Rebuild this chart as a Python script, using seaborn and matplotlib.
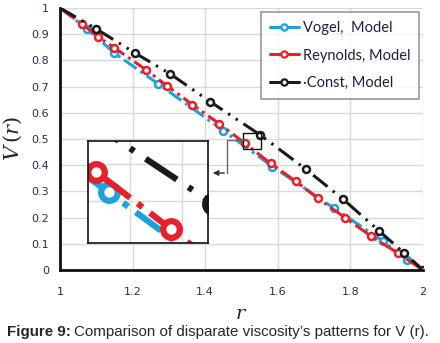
import numpy as np
import pandas as pd
import seaborn as sns
import matplotlib
matplotlib.use("Agg")
import matplotlib.pyplot as plt
from matplotlib.patches import Rectangle, FancyArrowPatch
from matplotlib.lines import Line2D

# ---- data ----
vogel_r = [1.0, 1.075, 1.15, 1.27, 1.45, 1.585, 1.755, 1.89, 1.955, 2.0]
vogel_v = [1.0, 0.92, 0.828, 0.711, 0.532, 0.395, 0.236, 0.11, 0.04, 0.0]

reyn_r = [1.0, 1.06, 1.105, 1.15, 1.237, 1.295, 1.365, 1.438, 1.51, 1.58,
          1.65, 1.71, 1.785, 1.857, 1.93, 2.0]
reyn_v = [1.0, 0.94, 0.89, 0.848, 0.764, 0.703, 0.631, 0.559, 0.483, 0.407,
          0.338, 0.274, 0.20, 0.129, 0.065, 0.0]

const_r = [1.0, 1.1, 1.207, 1.303, 1.413, 1.55, 1.678, 1.78, 1.88, 1.948, 2.0]
const_v = [1.0, 0.92, 0.828, 0.749, 0.643, 0.517, 0.384, 0.27, 0.148, 0.065, 0.0]

labels = ["Vogel,  Model", "Reynolds, Model", "\u00b7Const, Model"]
xticks = [1, 1.2, 1.4, 1.6, 1.8, 2]
xticklabels = ["1", "1.2", "1.4", "1.6", "1.8", "2"]
yticks = [0, 0.1, 0.2, 0.3, 0.4, 0.5, 0.6, 0.7, 0.8, 0.9, 1]
yticklabels = ["0", "0.1", "0.2", "0.3", "0.4", "0.5", "0.6", "0.7", "0.8", "0.9", "1"]

colors = ["#1aa3dd", "#e8202a", "#1a1a1a"]
dash_styles = [(5, 1.5, 1, 1.5), (6, 1.5, 1, 1.5), (6, 2.2, 0.8, 2.2, 0.8, 2.2)]

series = [(vogel_r, vogel_v, False), (reyn_r, reyn_v, False), (const_r, const_v, True)]

sns.set_style("white")
plt.rcParams['font.family'] = ['DejaVu Sans']
plt.rcParams['mathtext.fontset'] = 'dejavuserif'

W, H = 440, 343
fig = plt.figure(figsize=(W / 100, H / 100), dpi=100)
ax = fig.add_axes([60 / W, 1 - 270 / H, 363 / W, 262 / H])


def draw(axis, lw, ms, mew):
    for (rs, vs, last_marker), c, d in zip(series, colors, dash_styles):
        df = pd.DataFrame({"r": rs, "V": vs})
        sns.lineplot(data=df, x="r", y="V", ax=axis, color=c, lw=lw,
                     estimator=None, sort=False, legend=False)
        line = axis.lines[-1]
        line.set_dashes(d)
        line.set_marker("o")
        line.set_markersize(ms)
        line.set_markeredgewidth(mew)
        line.set_markerfacecolor("white")
        line.set_markeredgecolor(c)
        n = len(rs)
        line.set_markevery(list(range(1, n if last_marker else n - 1)))


draw(ax, 2.2, 5.0, 1.8)

ax.set_xlim(1, 2)
ax.set_ylim(0, 1)
ax.set_xticks(xticks)
ax.set_xticklabels(xticklabels)
ax.set_yticks(yticks)
ax.set_yticklabels(yticklabels)
ax.set_xticks(np.arange(1, 2.001, 0.04), minor=True)
ax.set_yticks(np.arange(0, 1.001, 0.02), minor=True)
ax.grid(True, which="major", color="#d9d9d9", lw=1)
ax.tick_params(which="major", direction="in", length=4, width=1.2, colors="#222222",
               labelsize=8, labelcolor="#2b2b50")
ax.tick_params(axis="x", which="major", pad=12)
ax.tick_params(axis="y", which="major", pad=8)
ax.tick_params(which="minor", direction="in", length=2.5, width=1, colors="#222222")
for s in ["top", "right"]:
    ax.spines[s].set_visible(False)
for s in ["left", "bottom"]:
    ax.spines[s].set_color("#111111")
    ax.spines[s].set_linewidth(2)
ax.set_xlabel("$r$", fontsize=14, labelpad=5)
ax.set_ylabel("$V\\,(r)$", fontsize=15, labelpad=5)

# legend
handles = [Line2D([0], [0], color=c, lw=2.2, marker="o", ms=4.5, mfc="white",
                  mec=c, mew=1.6) for c in colors]
leg = ax.legend(handles, labels, loc="upper right", bbox_to_anchor=(0.99, 0.985),
                frameon=True, fancybox=False, edgecolor="#7f7f7f",
                handlelength=2.0, handletextpad=0.3, labelspacing=0.95,
                borderpad=0.6, borderaxespad=0.0,
                prop={"family": "Lato", "size": 10.5})
leg.get_frame().set_linewidth(1.2)
for t in leg.get_texts():
    t.set_color("#1f1f3f")

# zoom rectangle in main axes
ax.add_patch(Rectangle((1.504, 0.46), 0.05, 0.061, fill=False, ec="#111111", lw=1, zorder=5))

# inset
iax = fig.add_axes([88 / W, 1 - 243 / H, 120 / W, 102 / H])
draw(iax, 4.5, 12, 4.5)
iax.set_xlim(1.43, 1.545)
iax.set_ylim(0.465, 0.6)
iax.set_xticks([1.47, 1.52])
iax.set_yticks([0.52, 0.57])
iax.grid(True, color="#d9d9d9", lw=1)
iax.tick_params(left=False, bottom=False, labelleft=False, labelbottom=False)
iax.set_xlabel("")
iax.set_ylabel("")
for s in iax.spines.values():
    s.set_color("#111111")
    s.set_linewidth(1.2)
iax.set_facecolor("white")


def fx(px):
    return px / W


def fy(py):
    return 1 - py / H


fig.add_artist(Line2D([fx(244), fx(227), fx(227)], [fy(140), fy(140), fy(173)],
                      color="#666666", lw=1))
fig.add_artist(FancyArrowPatch((fx(227), fy(173)), (fx(210), fy(173)),
                               transform=fig.transFigure, arrowstyle="-|>",
                               mutation_scale=8, color="#333333", lw=1))

# caption
t1 = fig.text(7 / W, fy(332), "Figure 9:", fontsize=10.9, fontweight="bold",
              family="Liberation Sans", va="center", ha="left")
fig.canvas.draw()
bb = t1.get_window_extent()
fig.text((bb.x1 + 3) / W, fy(332), "Comparison of disparate viscosity\u2019s patterns for V (r).",
         fontsize=10.9, family="Liberation Sans", va="center", ha="left")

fig.savefig("out.png", dpi=100)
